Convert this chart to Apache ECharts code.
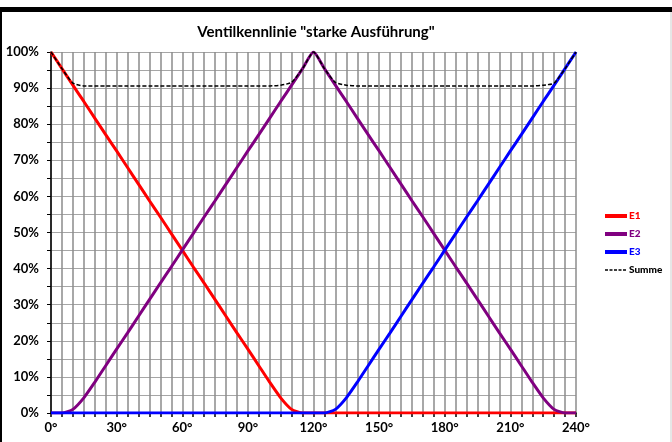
<!DOCTYPE html>
<html>
<head>
<meta charset="utf-8">
<script src="https://cdn.jsdelivr.net/npm/echarts@6/dist/echarts.min.js"></script>
<style>
html,body{margin:0;padding:0;background:#fff;}
#chart{width:672px;height:442px;}
</style>
</head>
<body>
<div id="chart"></div>
<script>
const titleText = 'Ventilkennlinie "starke Ausführung"';
const angles = [0,5,10,15,20,25,30,35,40,45,50,55,60,65,70,75,80,85,90,95,100,105,110,115,120,
  125,130,135,140,145,150,155,160,165,170,175,180,185,190,195,200,205,210,215,220,225,230,235,240];
const e1 = [100,95.4,90.8,86.3,81.7,77.1,72.6,68.0,63.4,58.8,54.3,49.7,45.1,40.5,36.0,31.4,26.8,22.2,17.7,13.1,8.5,4.2,1.0,0,0,
  0,0,0,0,0,0,0,0,0,0,0,0,0,0,0,0,0,0,0,0,0,0,0,0];
const e2 = [0,0,1.0,4.2,8.5,13.1,17.7,22.2,26.8,31.4,36.0,40.5,45.1,49.7,54.3,58.8,63.4,68.0,72.6,77.1,81.7,86.3,90.8,95.4,100,
  95.4,90.8,86.3,81.7,77.1,72.6,68.0,63.4,58.8,54.3,49.7,45.1,40.5,36.0,31.4,26.8,22.2,17.7,13.1,8.5,4.2,1.0,0,0];
const e3 = [0,0,0,0,0,0,0,0,0,0,0,0,0,0,0,0,0,0,0,0,0,0,0,0,0,
  0,1.0,4.2,8.5,13.1,17.7,22.2,26.8,31.4,36.0,40.5,45.1,49.7,54.3,58.8,63.4,68.0,72.6,77.1,81.7,86.3,90.8,95.4,100];
const summe = [100,95.4,91.4,90.6,90.6,90.6,90.6,90.6,90.6,90.6,90.6,90.6,90.6,90.6,90.6,90.6,90.6,90.6,90.6,90.6,90.6,90.8,91.6,95.4,100,
  95.4,91.6,90.8,90.6,90.6,90.6,90.6,90.6,90.6,90.6,90.6,90.6,90.6,90.6,90.6,90.6,90.6,90.6,90.6,90.6,90.8,91.4,95.4,100];
const seriesNames = ['E1','E2','E3','Summe'];
const seriesColors = ['#ff0000','#800080','#0000ff','#000000'];

const pairs = arr => angles.map((a,i)=>[a,arr[i]]);
const font = 'Lato, "Open Sans", sans-serif';
const chart = echarts.init(document.getElementById('chart'));
const lineSeries = [e1,e2,e3].map((arr,i)=>({
  name: seriesNames[i], type:'line', data: pairs(arr), symbol:'none', smooth:0.2,
  lineStyle:{color:seriesColors[i], width:3}, itemStyle:{color:seriesColors[i]}, z:2+i
}));
lineSeries.push({
  name: seriesNames[3], type:'line', data: pairs(summe), symbol:'none', smooth:0.2,
  lineStyle:{color:'#000', width:1.5, type:[4,2]}, itemStyle:{color:'#000'}, z:10
});
chart.setOption({
  animation:false,
  backgroundColor:'#fff',
  title:{text:titleText, left:311, textAlign:'center', top:20,
    textStyle:{fontFamily:font, fontSize:15, fontWeight:'bold', color:'#000'}},
  legend:{orient:'vertical', left:598, top:206, itemWidth:22, itemHeight:1, itemGap:8,
    itemStyle:{opacity:0},
    data: seriesNames.map((n,i)=>({name:n, textStyle:{color:seriesColors[i]},
      lineStyle: i<3 ? {width:4} : {width:1.5, type:[3,1.5]}})),
    textStyle:{fontFamily:font, fontSize:10, fontWeight:900, padding:[0,0,0,-3]}},
  grid:{left:51, right:96, top:52, bottom:29},
  xAxis:{type:'value', min:0, max:240, interval:30,
    axisLine:{show:true, lineStyle:{color:'#000', width:1.5}},
    axisTick:{show:true, length:4, lineStyle:{color:'#000', width:1.5}},
    minorTick:{show:true, splitNumber:6, length:4, lineStyle:{color:'#000', width:1.5}},
    splitLine:{show:true, lineStyle:{color:'#8c8c8c', width:1.5}},
    minorSplitLine:{show:true, lineStyle:{color:'#8c8c8c', width:1.5}},
    axisLabel:{formatter:v=>v+'°', fontFamily:font, fontSize:13, fontWeight:'bold', color:'#000', margin:8}},
  yAxis:{type:'value', min:0, max:100, interval:10,
    axisLine:{show:true, lineStyle:{color:'#000', width:1.5}},
    axisTick:{show:true, length:4, lineStyle:{color:'#000', width:1}},
    minorTick:{show:true, splitNumber:2, length:4, lineStyle:{color:'#000', width:1}},
    splitLine:{show:true, lineStyle:{color:'#a6a6a6', width:1}},
    minorSplitLine:{show:true, lineStyle:{color:'#a6a6a6', width:1}},
    axisLabel:{formatter:v=>v+'%', fontFamily:font, fontSize:13, fontWeight:'bold', color:'#000', margin:12}},
  graphic:[
    {type:'rect', shape:{x:0,y:7,width:672,height:5}, style:{fill:'#000'}},
    {type:'rect', shape:{x:0,y:7,width:2,height:435}, style:{fill:'#000'}},
    {type:'rect', shape:{x:670,y:12,width:2,height:430}, style:{fill:'#e6e6e6'}}
  ],
  series: lineSeries
});
</script>
</body>
</html>
